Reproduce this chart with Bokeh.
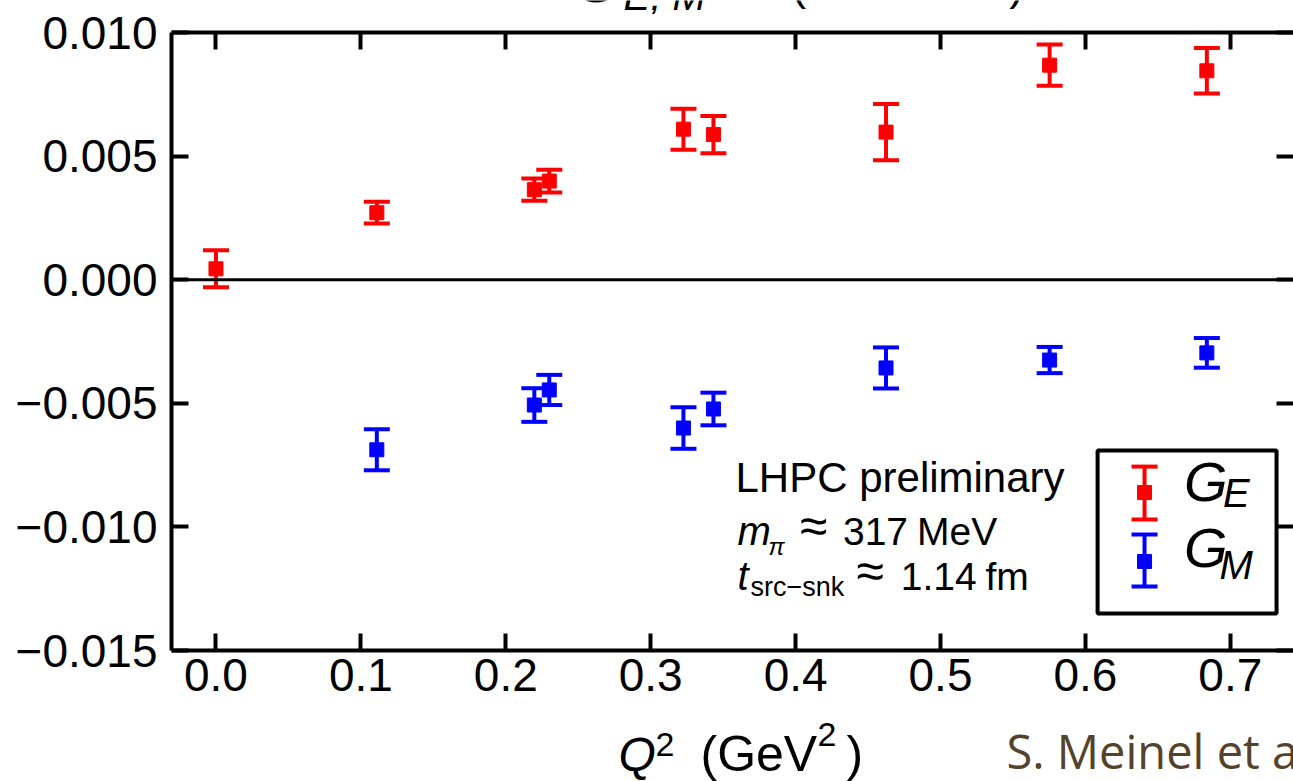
from bokeh.plotting import figure
from bokeh.layouts import column
from bokeh.models import (Range1d, LinearAxis, FixedTicker, CustomJSTickFormatter,
                          ColumnDataSource, Whisker, TeeHead, Span, BoxAnnotation, Label)
from bokeh.embed import file_html
from bokeh.resources import INLINE

# Electric form factor G_E vs Q^2 (GeV^2)
ge_q2 = [0.0, 0.111, 0.2197, 0.230, 0.3226, 0.3433, 0.4624, 0.5753, 0.6838]
ge_val = [0.00044, 0.00271, 0.00364, 0.00399, 0.00609, 0.00587, 0.00597, 0.00868, 0.00845]
ge_err = [0.00075, 0.00044, 0.00045, 0.00046, 0.00083, 0.00075, 0.00114, 0.00083, 0.00092]

# Magnetic form factor G_M vs Q^2 (GeV^2)
gm_q2 = [0.111, 0.2197, 0.230, 0.3226, 0.3433, 0.4624, 0.5753, 0.6838]
gm_val = [-0.00688, -0.00507, -0.00446, -0.00600, -0.00523, -0.00357, -0.00325, -0.00296]
gm_err = [0.00083, 0.00068, 0.00061, 0.00084, 0.00066, 0.00083, 0.00053, 0.00060]

x_ticks = [0.0, 0.1, 0.2, 0.3, 0.4, 0.5, 0.6, 0.7]
y_ticks = [-0.015, -0.010, -0.005, 0.0, 0.005, 0.010]

RED = "#ff0000"
BLUE = "#0000ff"
FONT = "Liberation Sans"
W = 1293
LEFT = 171

# ---------------------------------------------------------------- main plot
p = figure(width=W, height=702,
           x_range=Range1d(-0.0307, 0.7436), y_range=Range1d(-0.015, 0.010),
           output_backend="svg", toolbar_location=None,
           min_border_left=LEFT, min_border_right=0,
           min_border_top=18, min_border_bottom=66,
           outline_line_color=None, background_fill_color="white",
           border_fill_color="white")
p.grid.visible = False

y_fmt = CustomJSTickFormatter(code="""
    const s = Math.abs(tick).toFixed(3);
    return (tick < -1e-12 ? "\\u2212" : "") + s;
""")
x_fmt = CustomJSTickFormatter(code="return tick.toFixed(1);")
blank_fmt = CustomJSTickFormatter(code="return '';")


def style_axis(ax, ticks, fmt, show_line=True, label_size="46px", standoff=6):
    ax.ticker = FixedTicker(ticks=ticks, minor_ticks=[])
    ax.formatter = fmt
    ax.major_tick_in = 17
    ax.major_tick_out = 0
    ax.minor_tick_in = 0
    ax.minor_tick_out = 0
    ax.major_tick_line_width = 4
    ax.major_tick_line_color = "black"
    ax.axis_line_width = 4
    ax.axis_line_color = "black" if show_line else None
    ax.major_label_text_font = FONT
    ax.major_label_text_font_size = label_size
    ax.major_label_text_color = "black"
    ax.major_label_standoff = standoff


style_axis(p.xaxis[0], x_ticks, x_fmt, standoff=8)
style_axis(p.yaxis[0], y_ticks, y_fmt, standoff=14)

top_axis = LinearAxis()
style_axis(top_axis, x_ticks, blank_fmt, label_size="0px", standoff=0)
p.add_layout(top_axis, "above")

right_axis = LinearAxis()
style_axis(right_axis, y_ticks, blank_fmt, show_line=False, label_size="0px", standoff=0)
p.add_layout(right_axis, "right")

# zero line
p.add_layout(Span(location=0, dimension="width", line_color="black", line_width=3))


def error_series(q2, val, err, color):
    src = ColumnDataSource(dict(
        x=q2, y=val,
        upper=[v + e for v, e in zip(val, err)],
        lower=[v - e for v, e in zip(val, err)],
    ))
    p.add_layout(Whisker(source=src, base="x", upper="upper", lower="lower",
                         line_color=color, line_width=4,
                         upper_head=TeeHead(size=26, line_color=color, line_width=4),
                         lower_head=TeeHead(size=26, line_color=color, line_width=4)))
    p.scatter("x", "y", source=src, marker="square", size=14,
              fill_color=color, line_color=color)


error_series(ge_q2, ge_val, ge_err, RED)
error_series(gm_q2, gm_val, gm_err, BLUE)


def put(fig, text, x, y, size, style="normal", color="black", font=FONT):
    # (x, y) is the text baseline start; lift by the box descent
    fig.add_layout(Label(x=x, y=y, text=text, text_font=font,
                         text_font_size=f"{size}px", text_font_style=style,
                         text_color=color, text_align="left",
                         text_baseline="alphabetic", y_offset=0.38 * size))


# legend box with error-bar samples
p.add_layout(BoxAnnotation(left=0.6084, right=0.7319, top=-0.00691, bottom=-0.0135,
                           fill_alpha=0, line_color="black", line_alpha=1.0,
                           line_width=4))
leg = ColumnDataSource(dict(x=[0.6408, 0.6408], y=[-0.00861, -0.01140],
                            upper=[-0.00756, -0.01031], lower=[-0.00970, -0.01241],
                            color=[RED, BLUE]))
p.add_layout(Whisker(source=leg, base="x", upper="upper", lower="lower",
                     line_color="color", line_width=4,
                     upper_head=TeeHead(size=26, line_color="color", line_width=4),
                     lower_head=TeeHead(size=26, line_color="color", line_width=4)))
p.scatter("x", "y", source=leg, marker="square", size=14,
          fill_color="color", line_color="color")
put(p, "G", 0.6680, -0.00901, 56, "italic")
put(p, "E", 0.6950, -0.00926, 40, "italic")
put(p, "G", 0.6680, -0.01168, 56, "italic")
put(p, "M", 0.6925, -0.01217, 40, "italic")

# ensemble annotation
put(p, "LHPC  preliminary", 0.3585, -0.00865, 42)
put(p, "m", 0.3599, -0.01079, 40, "italic")
put(p, "\u03c0", 0.3813, -0.01116, 24, "italic")
put(p, "\u2248", 0.4030, -0.01075, 50)
put(p, "317", 0.4327, -0.01079, 39)
put(p, "MeV", 0.4838, -0.01079, 39)
put(p, "t", 0.3599, -0.01261, 40, "italic")
put(p, "src\u2212snk", 0.3689, -0.01285, 27)
put(p, "\u2248", 0.4420, -0.01257, 50)
put(p, "1.14", 0.4726, -0.01261, 39)
put(p, "fm", 0.5310, -0.01261, 39)


# ------------------------------------------------ text strips above and below
# The column aligns every frame with the main plot's frame, so the strips use
# a horizontal range in page pixels that starts at the plot's left border.
def strip(height):
    f = figure(width=W, height=height, x_range=Range1d(LEFT, W),
               y_range=Range1d(height, 0),
               output_backend="svg", toolbar_location=None,
               x_axis_location=None, y_axis_location=None,
               min_border_left=LEFT, min_border_right=0,
               min_border_top=0, min_border_bottom=0,
               outline_line_color=None)
    f.grid.visible = False
    return f


top = strip(14)
put(top, "G", 575, 3, 56, "italic")
put(top, "E, M", 623, 11, 40, "italic")
put(top, "(connected)", 791, 1, 44)

bot = strip(65)
put(bot, "Q", 618, 56, 48, "italic")
put(bot, "2", 655, 41, 34)
put(bot, "(GeV", 700, 56, 50)
put(bot, "2", 817, 31, 34)
put(bot, ")", 846, 56, 50)
put(bot, "S. Meinel et al.", 1006, 52, 47, color="#54432a", font="Open Sans")

layout = column(top, p, bot, spacing=0)
open("out.html", "w").write(file_html(layout, INLINE))
